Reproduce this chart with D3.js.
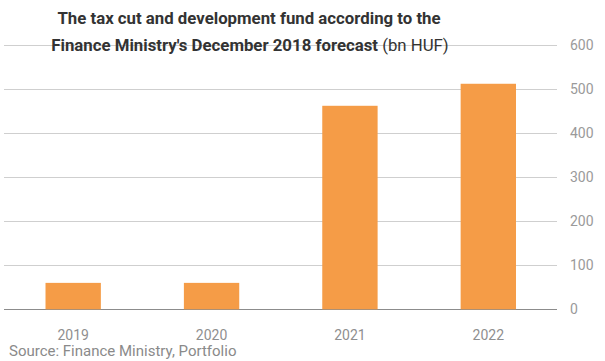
<!DOCTYPE html>
<html lang="en">
<head>
  <meta charset="UTF-8" />
  <title>Tax cut and development fund</title>
  <style>
    body {
      margin: 0;
      background: #fff;
      font-family: Roboto, sans-serif;
    }
    svg { display: block; }
    .tick-label { font-size: 14px; fill: #9a9a9a; }
    .cat-label { font-size: 14px; fill: #8f8f8f; }
  </style>
</head>
<body>
  <svg id="chart" width="605" height="361"></svg>
  <script src="https://d3js.org/d3.v7.min.js"></script>
  <script>
    // data
    const years = ["2019", "2020", "2021", "2022"];
    const values = [60, 60, 462, 512];
    const yTicks = [0, 100, 200, 300, 400, 500, 600];

    const svg = d3.select("#chart");

    const x = d3.scaleBand()
      .domain(years)
      .range([4, 557.5])
      .paddingInner(0.6)
      .paddingOuter(0.3);

    const y = d3.scaleLinear()
      .domain([0, 600])
      .range([309.3, 45]);

    // gridlines
    svg.append("g")
      .selectAll("line")
      .data(yTicks)
      .join("line")
      .attr("x1", 4)
      .attr("x2", 557)
      .attr("y1", d => Math.round(y(d)) + 0.5)
      .attr("y2", d => Math.round(y(d)) + 0.5)
      .attr("stroke", d => d === 0 ? "#8c8c8c" : "#cfcfcf")
      .attr("stroke-width", 1);

    // y tick labels on the right
    svg.append("g")
      .selectAll("text")
      .data(yTicks)
      .join("text")
      .attr("class", "tick-label")
      .attr("x", 570)
      .attr("y", d => y(d) + 5)
      .text(d => d);

    // bars
    svg.append("g")
      .selectAll("rect")
      .data(values)
      .join("rect")
      .attr("x", (d, i) => x(years[i]))
      .attr("width", x.bandwidth())
      .attr("y", d => y(d))
      .attr("height", d => y(0) - y(d))
      .attr("fill", "#f59c47");

    // category labels
    svg.append("g")
      .selectAll("text")
      .data(years)
      .join("text")
      .attr("class", "cat-label")
      .attr("x", d => x(d) + x.bandwidth() / 2)
      .attr("y", 339.5)
      .attr("text-anchor", "middle")
      .text(d => d);

    // title
    const title = svg.append("text")
      .attr("text-anchor", "middle")
      .attr("font-size", 16.8)
      .attr("fill", "#333");
    title.append("tspan")
      .attr("x", 249).attr("y", 24)
      .attr("font-weight", "bold")
      .text("The tax cut and development fund according to the");
    const l2 = title.append("tspan")
      .attr("x", 250).attr("y", 51);
    l2.append("tspan").attr("font-weight", "bold").text("Finance Ministry's December 2018 forecast");
    l2.append("tspan").text(" (bn HUF)");

    // source
    svg.append("text")
      .attr("x", 9)
      .attr("y", 355.5)
      .attr("font-size", 15)
      .attr("fill", "#8a8a8a")
      .text("Source: Finance Ministry, Portfolio");
  </script>
</body>
</html>
